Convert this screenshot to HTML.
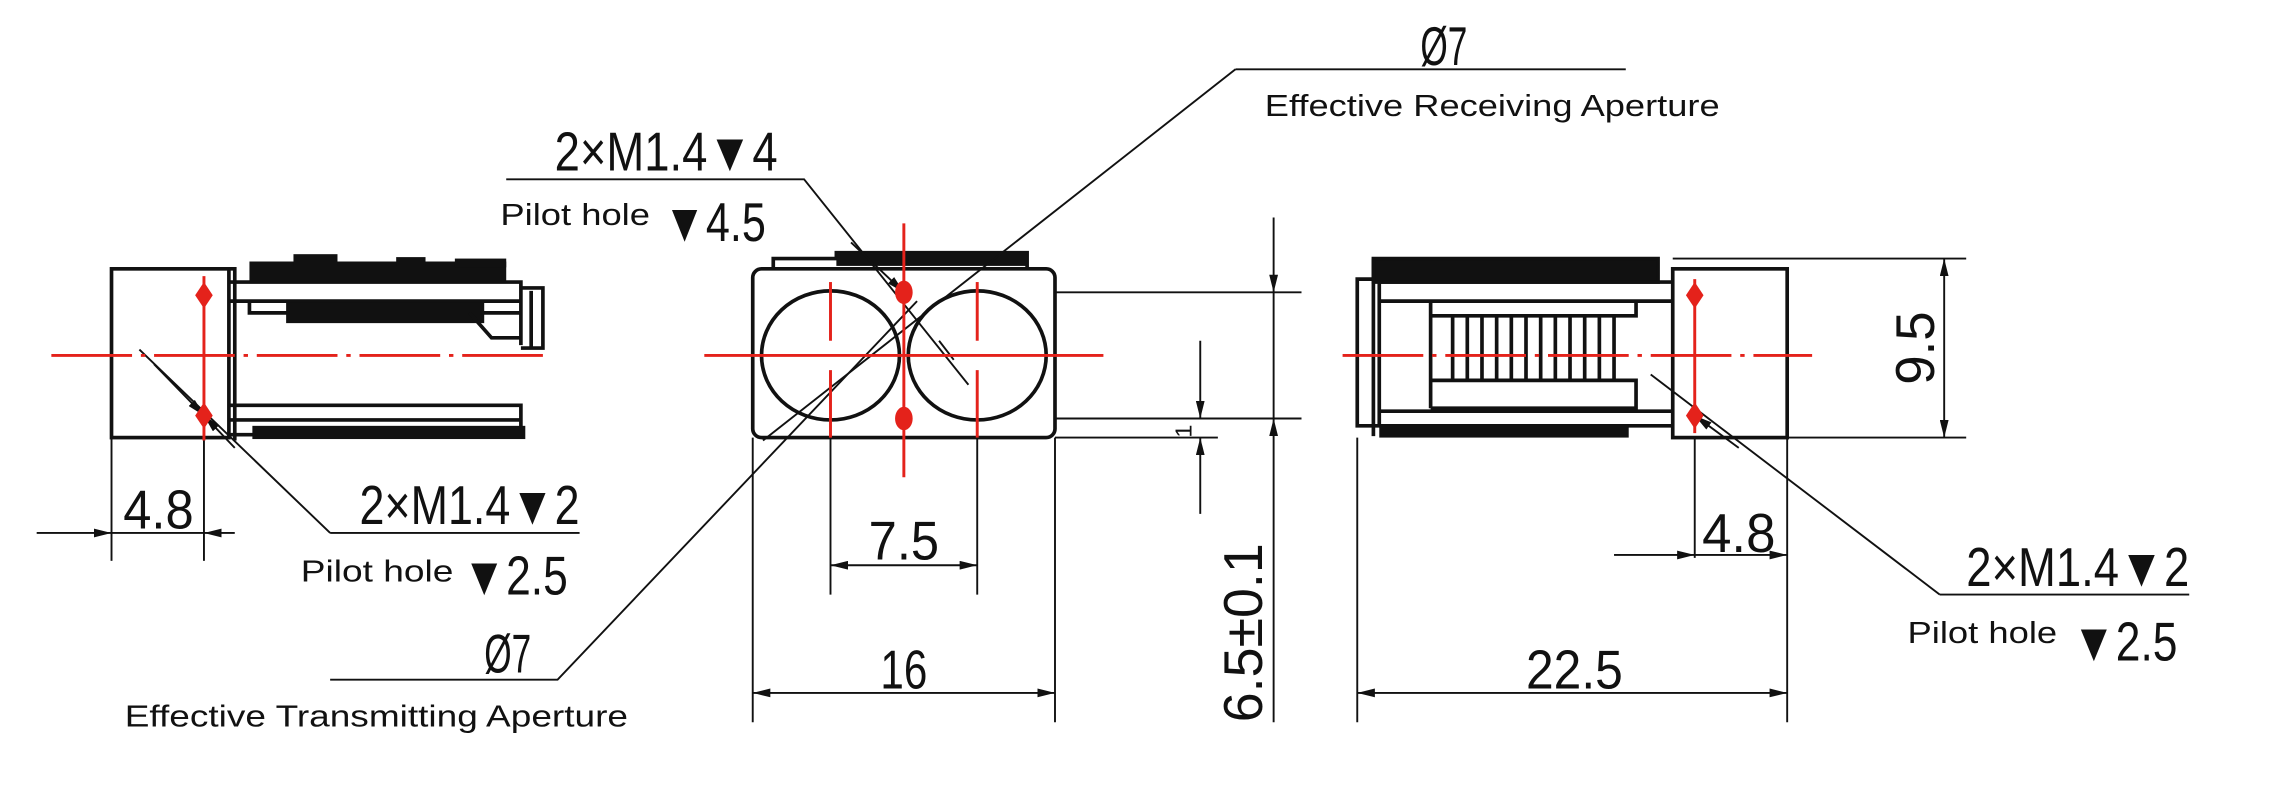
<!DOCTYPE html>
<html><head><meta charset="utf-8"><style>
html,body{margin:0;padding:0;background:#fff;}
svg{display:block}
.d{font-family:"Liberation Sans",sans-serif;font-size:37px;fill:#111}
.s{font-family:"Liberation Sans","DejaVu Sans",sans-serif;font-size:21px;fill:#111}
</style></head><body>
<svg width="2289" height="793" viewBox="0 0 1560 540" xmlns="http://www.w3.org/2000/svg">
<defs>
<marker id="a" viewBox="0 0 12 6" refX="12" refY="3" markerWidth="12" markerHeight="6" orient="auto-start-reverse" markerUnits="userSpaceOnUse"><path d="M0,0 L12,3 L0,6 z" fill="#111"/></marker>
</defs>
<rect width="1560" height="540" fill="#fff"/>
<g stroke="#111" fill="none" stroke-width="2.5">
<rect x="76" y="183" width="80" height="115"/>
<path d="M156 183 H160 V300"/>
<path d="M156 192 H355 V235 M156 205 H355 M170 205 V213 H355"/>
<path d="M156 286 H355 V296 H156 M156 276 H355 V296"/>
<rect x="170" y="178" width="175" height="15" fill="#111" stroke="none"/>
<rect x="200" y="173" width="30" height="8" fill="#111" stroke="none"/>
<rect x="270" y="175" width="20" height="6" fill="#111" stroke="none"/>
<rect x="310" y="176" width="35" height="6" fill="#111" stroke="none"/>
<path d="M195 206 H330 V220 H195 z" fill="#111" stroke="none"/>
<path d="M355 196 H370 V237 H355 M362 198 V236"/>
<path d="M320 213 L335 230 H355"/>
<rect x="172" y="290" width="186" height="9" fill="#111" stroke="none"/>
<rect x="513" y="183" width="206" height="115" rx="6"/>
<path d="M527 183 V176 H570 V172 H700 V183" />
<rect x="570" y="172" width="130" height="9" fill="#111" stroke="none"/>
<ellipse cx="566" cy="242" rx="47" ry="44"/>
<ellipse cx="666" cy="242" rx="47" ry="44"/>
<rect x="1140" y="183" width="78" height="115"/>
<path d="M925 190 H940 V290 H925 z"/>
<path d="M936 176 H1130 V192 H936 z" fill="#111"/>
<path d="M940 192 H1140 M940 205 H1140 M975 205 V278 M975 215 H1115 V205 M975 259 H1115 V278 H975 M940 280 H1140 M940 290 H1140"/>
<rect x="940" y="289" width="170" height="9" fill="#111" stroke="none"/>
<path d="M936 176 V297"/>
</g>
<g stroke="#111" stroke-width="2.5">
<line x1="990" y1="215" x2="990" y2="259"/><line x1="1000" y1="215" x2="1000" y2="259"/><line x1="1010" y1="215" x2="1010" y2="259"/><line x1="1020" y1="215" x2="1020" y2="259"/><line x1="1030" y1="215" x2="1030" y2="259"/><line x1="1040" y1="215" x2="1040" y2="259"/><line x1="1050" y1="215" x2="1050" y2="259"/><line x1="1060" y1="215" x2="1060" y2="259"/><line x1="1070" y1="215" x2="1070" y2="259"/><line x1="1080" y1="215" x2="1080" y2="259"/><line x1="1090" y1="215" x2="1090" y2="259"/><line x1="1100" y1="215" x2="1100" y2="259"/>
</g>
<g stroke="#111" stroke-width="1.3" fill="none">
<line x1="76" y1="298" x2="76" y2="382"/><line x1="139" y1="298" x2="139" y2="382"/>
<line x1="25" y1="363" x2="76" y2="363" marker-end="url(#a)"/><line x1="160" y1="363" x2="139" y2="363" marker-end="url(#a)"/><line x1="76" y1="363" x2="139" y2="363"/>
<line x1="513" y1="298" x2="513" y2="492"/><line x1="719" y1="298" x2="719" y2="492"/>
<line x1="513" y1="472" x2="719" y2="472" marker-start="url(#a)" marker-end="url(#a)"/>
<line x1="566" y1="298" x2="566" y2="405"/><line x1="666" y1="298" x2="666" y2="405"/>
<line x1="566" y1="385" x2="666" y2="385" marker-start="url(#a)" marker-end="url(#a)"/>
<line x1="719" y1="199" x2="887" y2="199"/><line x1="719" y1="285" x2="887" y2="285"/><line x1="719" y1="298" x2="830" y2="298"/>
<line x1="868" y1="148" x2="868" y2="199" marker-end="url(#a)"/><line x1="868" y1="199" x2="868" y2="285"/><line x1="868" y1="492" x2="868" y2="285" marker-end="url(#a)"/>
<line x1="818" y1="232" x2="818" y2="285" marker-end="url(#a)"/><line x1="818" y1="350" x2="818" y2="298" marker-end="url(#a)"/>
<line x1="1140" y1="176" x2="1340" y2="176"/><line x1="1218" y1="298" x2="1340" y2="298"/>
<line x1="1325" y1="176" x2="1325" y2="298" marker-start="url(#a)" marker-end="url(#a)"/>
<line x1="925" y1="298" x2="925" y2="492"/><line x1="1218" y1="298" x2="1218" y2="492"/>
<line x1="925" y1="472" x2="1218" y2="472" marker-start="url(#a)" marker-end="url(#a)"/>
<line x1="1155" y1="298" x2="1155" y2="380"/>
<line x1="1100" y1="378" x2="1155" y2="378" marker-end="url(#a)"/><line x1="1155" y1="378" x2="1218" y2="378" marker-end="url(#a)"/>
<path d="M225 363 H395"/><path d="M225 363 L95 238" /><line x1="160" y1="305" x2="139" y2="283" marker-end="url(#a)"/><line x1="105" y1="248" x2="139" y2="283" marker-end="url(#a)"/>
<path d="M345 122 H548 L660 262"/><line x1="580" y1="165" x2="616" y2="199" marker-end="url(#a)"/><line x1="640" y1="232" x2="650" y2="245"/>
<path d="M842 47 H1108"/><path d="M842 47 L520 300"/>
<path d="M225 463 H380 L625 205"/>
<path d="M1322 405 H1492"/><path d="M1322 405 L1125 255"/><line x1="1185" y1="305" x2="1155" y2="283" marker-end="url(#a)"/>
</g>
<g stroke="#e4221b" stroke-width="2" fill="none">
<line x1="35" y1="242" x2="375" y2="242" stroke-dasharray="55,6,3,6"/>
<line x1="139" y1="188" x2="139" y2="300"/>
<line x1="480" y1="242" x2="752" y2="242"/>
<line x1="616" y1="152" x2="616" y2="325"/>
<line x1="566" y1="192" x2="566" y2="232"/><line x1="566" y1="252" x2="566" y2="298"/>
<line x1="666" y1="192" x2="666" y2="232"/><line x1="666" y1="252" x2="666" y2="298"/>
<line x1="915" y1="242" x2="1235" y2="242" stroke-dasharray="55,6,3,6"/>
<line x1="1155" y1="190" x2="1155" y2="295"/>
</g>
<g fill="#e4221b">
<path d="M139 192 L145 201 L139 210 L133 201z"/><path d="M139 274 L145 283 L139 292 L133 283z"/>
<ellipse cx="616" cy="199" rx="6" ry="8"/><ellipse cx="616" cy="285" rx="6" ry="8"/>
<path d="M1155 192 L1161 201 L1155 210 L1149 201z"/><path d="M1155 274 L1161 283 L1155 292 L1149 283z"/>
</g>
<text class="d" x="84" y="360" textLength="48" lengthAdjust="spacingAndGlyphs">4.8</text>
<text class="d" x="245" y="357" textLength="150" lengthAdjust="spacingAndGlyphs">2×M1.4▼2</text>
<text class="s" x="205" y="396" textLength="104" lengthAdjust="spacingAndGlyphs">Pilot hole</text>
<text class="d" x="315" y="405" textLength="72" lengthAdjust="spacingAndGlyphs">▼2.5</text>
<text class="d" x="378" y="116" textLength="152" lengthAdjust="spacingAndGlyphs">2×M1.4▼4</text>
<text class="s" x="341" y="153" textLength="102" lengthAdjust="spacingAndGlyphs">Pilot hole</text>
<text class="d" x="452" y="164" textLength="70" lengthAdjust="spacingAndGlyphs">▼4.5</text>
<text class="d" x="968" y="44" textLength="32" lengthAdjust="spacingAndGlyphs">Ø7</text>
<text class="s" x="862" y="79" textLength="310" lengthAdjust="spacingAndGlyphs">Effective Receiving Aperture</text>
<text class="d" x="330" y="458" textLength="32" lengthAdjust="spacingAndGlyphs">Ø7</text>
<text class="s" x="85" y="495" textLength="343" lengthAdjust="spacingAndGlyphs">Effective Transmitting Aperture</text>
<text class="d" x="592" y="381" textLength="48" lengthAdjust="spacingAndGlyphs">7.5</text>
<text class="d" x="600" y="469" textLength="32" lengthAdjust="spacingAndGlyphs">16</text>
<text class="d" x="1040" y="469" textLength="66" lengthAdjust="spacingAndGlyphs">22.5</text>
<text class="d" x="1160" y="376" textLength="50" lengthAdjust="spacingAndGlyphs">4.8</text>
<text class="d" x="1340" y="399" textLength="152" lengthAdjust="spacingAndGlyphs">2×M1.4▼2</text>
<text class="s" x="1300" y="438" textLength="102" lengthAdjust="spacingAndGlyphs">Pilot hole</text>
<text class="d" x="1412" y="450" textLength="72" lengthAdjust="spacingAndGlyphs">▼2.5</text>
<text class="d" transform="translate(860,492) rotate(-90)" textLength="122" lengthAdjust="spacingAndGlyphs">6.5±0.1</text>
<text class="d" transform="translate(1318,262) rotate(-90)" textLength="50" lengthAdjust="spacingAndGlyphs">9.5</text>
<text class="d" style="font-size:16px" transform="translate(812,298) rotate(-90)">1</text>
</svg>
</body></html>
